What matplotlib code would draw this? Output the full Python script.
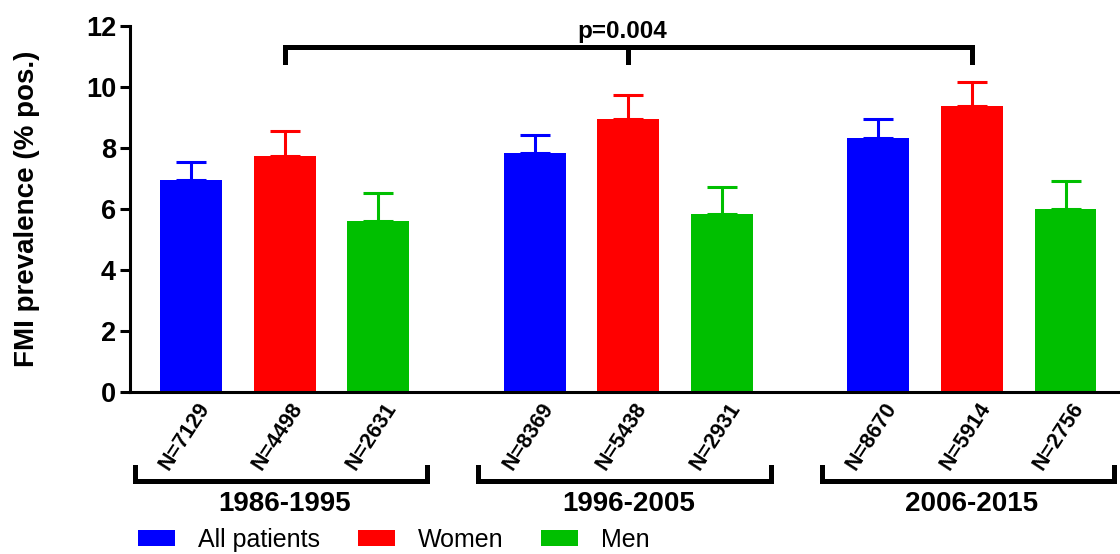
import matplotlib
matplotlib.use('Agg')
import matplotlib.pyplot as plt
import matplotlib.transforms as mtransforms
import numpy as np

plt.rcParams['font.family'] = ['Liberation Sans', 'DejaVu Sans']

# datos
periodos = ['1986-1995', '1996-2005', '2006-2015']
series = ['All patients', 'Women', 'Men']
colores = ['#0000ff', '#ff0000', '#00bf00']
prevalencia = {
    'All patients': [6.95, 7.84, 8.31],
    'Women': [7.73, 8.94, 9.38],
    'Men': [5.61, 5.85, 6.00],
}
error_sup = {
    'All patients': [0.60, 0.59, 0.63],
    'Women': [0.82, 0.78, 0.78],
    'Men': [0.90, 0.88, 0.91],
}
n_pacientes = {
    'All patients': [7129, 8369, 8670],
    'Women': [4498, 5438, 5914],
    'Men': [2631, 2931, 2756],
}
p_texto = 'p=0.004'

hueco = 0.667
ancho = 0.66

fig = plt.figure(figsize=(11.2, 5.54), dpi=100)
ax = fig.add_axes([130 / 1120, 1 - 392.3 / 554, 1 - 130 / 1120, (392.3 - 25.7) / 554])

pos = {}
for j, s in enumerate(series):
    x = np.arange(len(periodos)) * (len(series) + hueco) + j
    pos[s] = x
    ax.bar(x, prevalencia[s], width=ancho, color=colores[j], edgecolor='none', label=s, zorder=2)
    ax.errorbar(x, prevalencia[s], yerr=[np.zeros(len(x)), error_sup[s]], fmt='none',
                ecolor=colores[j], elinewidth=2.2, capsize=11, capthick=2.2, zorder=1)

ax.set_xlim(-0.651, 9.915)
ax.set_ylim(0, 12)
ax.set_yticks(np.arange(0, 13, 2))
ax.set_xticks([])
ax.spines['top'].set_visible(False)
ax.spines['right'].set_visible(False)
ax.spines['left'].set_linewidth(2.2)
ax.spines['bottom'].set_linewidth(2.2)
ax.tick_params(axis='y', width=2.2, length=7, pad=3, labelsize=19.5)
for t in ax.get_yticklabels():
    t.set_fontweight('bold')
ax.set_ylabel('FMI prevalence (% pos.)', fontsize=20, fontweight='bold')
ax.yaxis.set_label_coords(-0.091, 0.5)

# etiquetas N giradas
trans = mtransforms.blended_transform_factory(ax.transData, ax.transAxes)
for s in series:
    for x, n in zip(pos[s], n_pacientes[s]):
        ax.text(x + 0.15, -0.033, f'N={n}', transform=trans, rotation=57,
                rotation_mode='anchor', ha='right', va='center',
                fontsize=15.5, fontweight='bold', clip_on=False)

# corchetes de periodos
for g, periodo in enumerate(periodos):
    x0 = pos[series[0]][g] - 0.6
    x1 = pos[series[-1]][g] + 0.52
    ax.plot([x0, x0, x1, x1], [-0.204, -0.241, -0.241, -0.204], transform=trans,
            color='black', lw=3.6, clip_on=False, solid_joinstyle='miter')
    ax.text(pos[series[1]][g], -0.268, periodo, transform=trans, ha='center', va='top',
            fontsize=20, fontweight='bold', clip_on=False)

# corchete de significancia entre las mujeres
xr = pos['Women']
ax.plot([xr[0], xr[0], xr[-1], xr[-1]], [10.8, 11.31, 11.31, 10.8], color='black',
        lw=3.6, clip_on=False, solid_joinstyle='miter')
ax.plot([xr[1], xr[1]], [11.31, 10.82], color='black', lw=3.6, clip_on=False)
ax.text(xr[1] - 0.06, 11.43, p_texto, ha='center', va='bottom', fontsize=17.5, fontweight='bold')

fig.legend(loc='center left', bbox_to_anchor=(138 / 1120, 1 - 540 / 554), ncol=3,
           frameon=False, fontsize=18, handlelength=1.48, handleheight=0.64,
           handletextpad=0.92, columnspacing=1.5, borderpad=0, borderaxespad=0)

fig.savefig('out.png', dpi=100)
